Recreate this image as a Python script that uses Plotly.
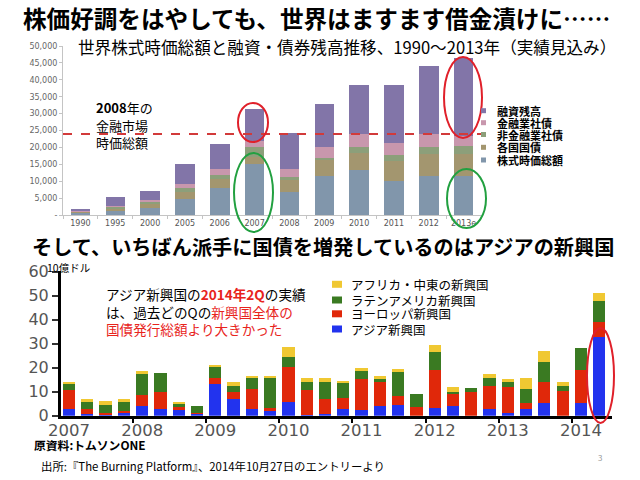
import plotly.graph_objects as go

W, H = 640, 480
def px(x): return x / W
def py(y): return 1 - y / H

JP = "Noto Sans CJK JP, sans-serif"

# ---------------- top chart data (USD billion) ----------------
years_top = ["1990", "1995", "2000", "2005", "2006", "2007", "2008", "2009", "2010", "2011", "2012", "2013e"]
stock = [600, 1300, 2200, 4700, 8000, 15100, 6800, 11500, 13300, 10200, 11500, 11600]
govt = [400, 700, 1200, 2000, 2800, 2200, 3500, 4700, 5100, 5900, 6500, 6500]
nonfin = [100, 400, 600, 1300, 1000, 2700, 800, 800, 1600, 1700, 2000, 2300]
fin = [150, 350, 300, 1100, 1800, 1900, 2500, 3000, 4000, 3400, 4000, 3100]
loans = [650, 2550, 2900, 6000, 7400, 9400, 10750, 12700, 14500, 17200, 20000, 23000]
top_names = ["株式時価総額", "各国国債", "非金融業社債", "金融業社債", "融資残高"]
top_colors = ["#8196ab", "#a3966f", "#8c9f7a", "#c897ad", "#8275a8"]
crisis_level = 24000
top_ticks = [0, 5000, 10000, 15000, 20000, 25000, 30000, 35000, 40000, 45000, 50000]
top_ticktext = ["-", "5,000", "10,000", "15,000", "20,000", "25,000", "30,000", "35,000", "40,000", "45,000", "50,000"]

# ---------------- bottom chart data (10億ドル), 2007Q1..2014Q2 ----------------
year_labels = ["2007", "2008", "2009", "2010", "2011", "2012", "2013", "2014"]
asia = [2.8, 0.8, 0.1, 1.1, 4.2, 2.7, 2.5, 1.0, 13.1, 6.8, 2.7, 2.1, 5.8, 0.3, 0.7, 2.7,
        2.4, 4.0, 4.5, 0.0, 3.1, 4.0, 0.0, 2.8, 1.25, 2.7, 5.2, 0.0, 5.4, 32.7]
europe = [7.9, 1.9, 0.9, 1.0, 4.4, 7.3, 1.0, 0.2, 2.5, 2.9, 8.3, 1.0, 14.6, 10.4, 6.1, 4.8,
          12.8, 10.2, 3.7, 3.75, 15.9, 5.0, 9.75, 9.6, 10.55, 2.7, 8.7, 10.3, 13.6, 6.5]
latam = [2.5, 2.9, 3.3, 3.7, 8.9, 7.7, 1.8, 2.8, 5.1, 2.8, 5.0, 13.2, 4.2, 3.3, 7.4, 6.5,
         3.6, 1.6, 9.9, 5.3, 7.7, 1.0, 1.65, 3.2, 2.8, 5.6, 8.35, 2.2, 9.1, 8.7]
africa = [1.0, 1.5, 2.0, 1.2, 1.1, 0.0, 0.5, 0.0, 0.4, 1.4, 0.4, 0.1, 4.2, 1.6, 1.4, 0.6,
          1.0, 0.7, 1.2, 0.0, 2.8, 2.1, 0.0, 1.65, 0.7, 4.6, 4.85, 1.7, 0.0, 3.35]
bot_names = ["アジア新興国", "ヨーロッパ新興国", "ラテンアメリカ新興国", "アフリカ・中東の新興国"]
bot_colors = ["#2233ee", "#e0280a", "#3a7a22", "#f0c832"]

fig = go.Figure()

for name, vals, col in zip(top_names, [stock, govt, nonfin, fin, loans], top_colors):
    fig.add_trace(go.Bar(x=years_top, y=vals, name=name, marker_color=col,
                         marker_line_width=0, width=0.56, xaxis="x", yaxis="y"))

quarters = list(range(len(asia)))
for name, vals, col in zip(bot_names, [asia, europe, latam, africa], bot_colors):
    fig.add_trace(go.Bar(x=quarters, y=vals, name=name, marker_color=col,
                         marker_line_width=0, width=0.67, xaxis="x2", yaxis="y2"))

fig.update_layout(
    width=W, height=H, margin=dict(l=0, r=0, t=0, b=0, autoexpand=False),
    paper_bgcolor="white", plot_bgcolor="white",
    barmode="stack", showlegend=False,
    xaxis=dict(domain=[px(63), px(481)], anchor="y", showline=True, linecolor="#c4c4c4",
               automargin=False,
               ticks="outside", tickson="boundaries", ticklen=3, tickcolor="#c4c4c4",
               tickfont=dict(family="DejaVu Sans", size=8, color="#555"), showgrid=False),
    yaxis=dict(domain=[py(215), py(46)], anchor="x", range=[0, 50000], showline=True,
               automargin=False,
               linecolor="#c4c4c4", ticks="outside", ticklen=3, tickcolor="#c4c4c4",
               tickvals=top_ticks, ticktext=top_ticktext, showgrid=False, zeroline=False,
               tickfont=dict(family="DejaVu Sans", size=8, color="#666")),
    xaxis2=dict(domain=[px(61), px(612)], anchor="y2", range=[-0.44, 29.7], showline=True,
                automargin=False,
                linecolor="black", linewidth=3, showgrid=False, zeroline=False,
                tickvals=[4 * i for i in range(len(year_labels))], ticktext=year_labels,
                ticks="", ticklabelstandoff=-3,
                tickfont=dict(family="DejaVu Sans", size=16.5, color="#555"),
                minor=dict(tickvals=[4 * i - 0.5 for i in range(1, len(year_labels))],
                           ticks="outside", ticklen=4, tickwidth=2, tickcolor="black")),
    yaxis2=dict(domain=[py(415.7), py(270.5)], anchor="x2", range=[0, 60.5], showline=True,
                automargin=False,
                linecolor="black", linewidth=3, showgrid=False, zeroline=False,
                tickvals=[0, 10, 20, 30, 40, 50, 60], ticks="outside", ticklen=6, tickwidth=2,
                tickcolor="#333", tickfont=dict(family="DejaVu Sans", size=16, color="#555")),
)

shapes = []
shapes.append(dict(type="line", xref="x domain", yref="y", x0=0, x1=1, y0=crisis_level, y1=crisis_level,
                   line=dict(color="#d23a3a", width=2, dash="dash")))
def ell(x0, y0, x1, y1, col):
    return dict(type="circle", xref="paper", yref="paper", x0=px(x0), x1=px(x1), y0=py(y1), y1=py(y0),
                line=dict(color=col, width=2))
shapes.append(ell(238, 103, 268, 142, "#e0202a"))
shapes.append(ell(234, 153, 273, 232, "#22a040"))
shapes.append(ell(444, 57, 482, 138, "#e0202a"))
shapes.append(ell(447, 169, 486, 228, "#22a040"))
shapes.append(ell(587, 328, 614, 423, "#e0202a"))

annotations = []
def txt(x, y, s, size, color="black", family=JP, xanchor="left"):
    annotations.append(dict(xref="paper", yref="paper", x=px(x), y=py(y), text=s, showarrow=False,
                            xanchor=xanchor, yanchor="middle", borderpad=0,
                            font=dict(family=family, size=size, color=color)))

txt(22, 18, "<b>株価好調をはやしても、世界はますます借金漬けに……</b>", 23.6)
txt(77, 47, "世界株式時価総額と融資・債券残高推移、1990～2013年（実績見込み）", 16.6)
txt(95, 108, "<b>2008</b>年の", 13)
txt(95, 125, "金融市場", 13)
txt(95, 142, "時価総額", 13)

leg_rows = [110.7, 122.7, 134.5, 147.3, 160]
for i, (name, col) in enumerate(zip(reversed(top_names), reversed(top_colors))):
    y = leg_rows[i]
    shapes.append(dict(type="rect", xref="paper", yref="paper", x0=px(481), x1=px(486),
                       y0=py(y + 2.5), y1=py(y - 2.5), fillcolor=col, line_width=0))
    txt(496, y, "<b>" + name + "</b>", 11)

txt(31, 247, "<b>そして、いちばん派手に国債を増発しているのはアジアの新興国</b>", 20.2)
txt(46, 267, "10億ドル", 10.5)

red = "#e8241c"
txt(105, 294, "アジア新興国の<span style='color:%s'><b>2014年2Q</b></span>の実績" % red, 13.6)
txt(105, 311.5, "は、過去どのQの<span style='color:%s'>新興国全体の</span>" % red, 13.6)
txt(105, 329, "<span style='color:%s'>国債発行総額より大きかった</span>" % red, 13.6)

bl_rows = [284.3, 300, 313.8, 329]
for i, (name, col) in enumerate(zip(reversed(bot_names), reversed(bot_colors))):
    y = bl_rows[i]
    shapes.append(dict(type="rect", xref="paper", yref="paper", x0=px(332), x1=px(342),
                       y0=py(y + 3.5), y1=py(y - 3.5), fillcolor=col, line_width=0))
    txt(350, y, name, 12.5)

txt(33, 444, "<b>原資料:トムソンONE</b>", 11.8)
txt(40, 466, "出所:『The Burning Platform』、2014年10月27日のエントリーより", 11.4)
txt(597, 457, "3", 8, color="#999")

fig.update_layout(shapes=shapes, annotations=annotations)
fig.write_html("out.html", config={"displayModeBar": False},
               post_script="document.body.style.margin='0';document.body.style.overflow='hidden';")
